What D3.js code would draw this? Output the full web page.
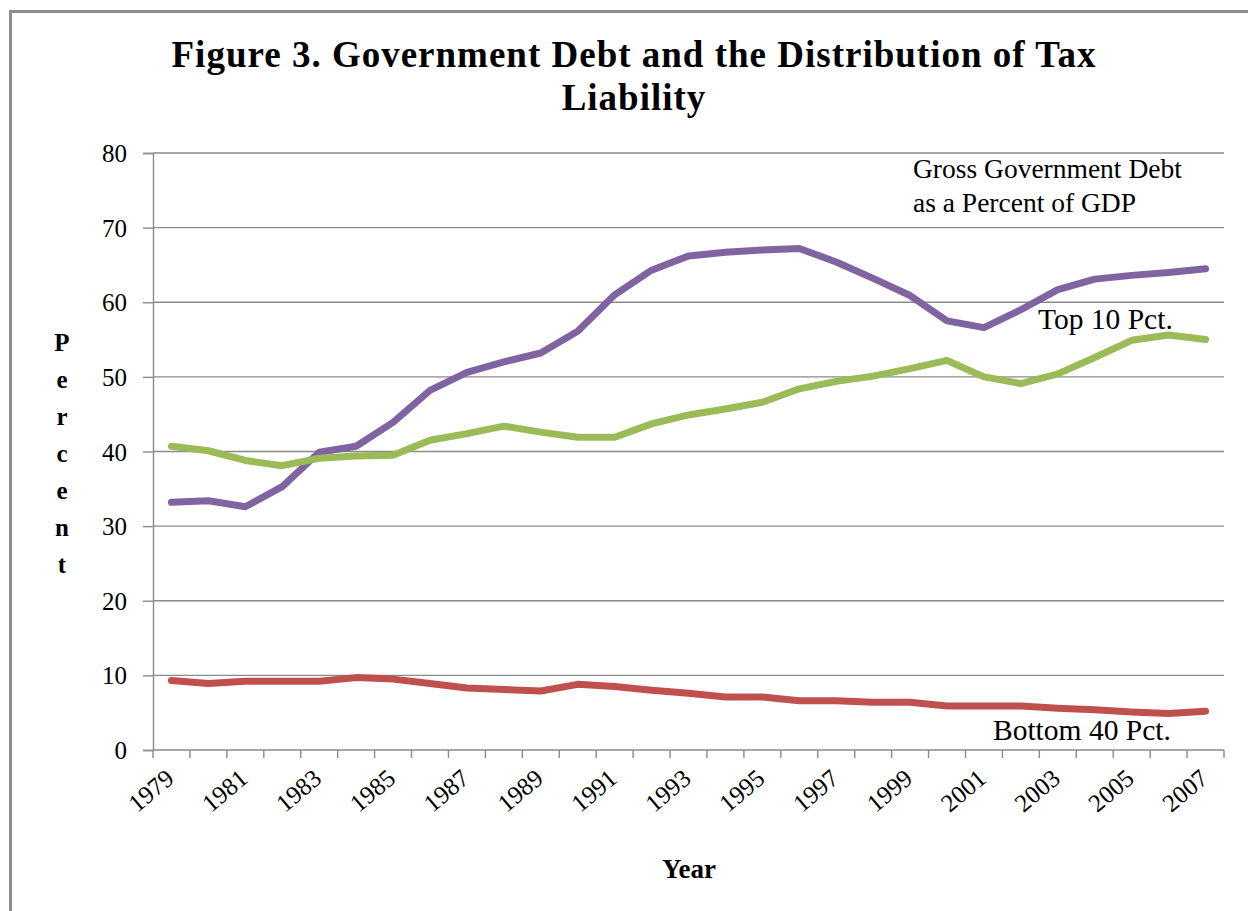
<!DOCTYPE html>
<html>
<head>
<meta charset="utf-8">
<script src="https://cdn.jsdelivr.net/npm/d3@7/dist/d3.min.js"></script>
<style>
  body { margin: 0; background: #fff; }
  text { font-family: "Liberation Serif", "Times New Roman", serif; fill: #000; }
</style>
</head>
<body>
<div id="chart"></div>
<script>
(function() {
    var years = d3.range(1979, 2008);
    var debt = [33.2, 33.4, 32.6, 35.3, 39.9, 40.7, 43.9, 48.2, 50.6, 52.0, 53.2, 56.1, 61.0, 64.3, 66.2,
                66.7, 67.0, 67.2, 65.4, 63.2, 60.9, 57.5, 56.6, 59.0, 61.7, 63.1, 63.6, 64.0, 64.5];
    var top10 = [40.7, 40.1, 38.8, 38.1, 39.1, 39.4, 39.5, 41.5, 42.4, 43.4, 42.6, 41.9, 41.9, 43.7, 44.9,
                 45.7, 46.6, 48.4, 49.4, 50.1, 51.1, 52.2, 50.0, 49.1, 50.4, 52.6, 54.9, 55.6, 55.0];
    var bottom40 = [9.3, 8.9, 9.2, 9.2, 9.2, 9.7, 9.5, 8.9, 8.3, 8.1, 7.9, 8.8, 8.5, 8.0, 7.6,
                    7.1, 7.1, 6.6, 6.6, 6.4, 6.4, 5.9, 5.9, 5.9, 5.6, 5.4, 5.1, 4.9, 5.2];
    var yTicks = [0, 10, 20, 30, 40, 50, 60, 70, 80];
    var xLabels = d3.range(1979, 2008, 2);

    var series = [
        { name: "debt", values: debt, color: "#8064a2" },
        { name: "top10", values: top10, color: "#9bbb59" },
        { name: "bottom40", values: bottom40, color: "#c0504d" }
    ];

    var W = 1248, H = 911;
    var margin = { top: 153, right: 24, bottom: 161, left: 153 },
        width = W - margin.left - margin.right,
        height = H - margin.top - margin.bottom;

    var svg = d3.select("#chart").append("svg")
        .attr("width", W)
        .attr("height", H);

    // outer frame
    svg.append("rect")
        .attr("x", 10.5).attr("y", 11.5)
        .attr("width", W).attr("height", H)
        .style("fill", "none")
        .style("stroke", "#8c8c8c")
        .style("stroke-width", 3);

    svg.append("text")
        .attr("x", 634).attr("y", 67)
        .attr("text-anchor", "middle")
        .style("font-weight", "bold")
        .style("font-size", "37px")
        .style("letter-spacing", "1px")
        .text("Figure 3. Government Debt and the Distribution of Tax");
    svg.append("text")
        .attr("x", 634).attr("y", 110)
        .attr("text-anchor", "middle")
        .style("font-weight", "bold")
        .style("font-size", "37px")
        .style("letter-spacing", "1px")
        .text("Liability");

    var g = svg.append("g")
        .attr("transform", "translate(" + margin.left + "," + margin.top + ")");

    var x = d3.scaleBand().domain(years).range([0, width]);
    var y = d3.scaleLinear().domain([0, 80]).range([height, 0]);

    // gridlines
    g.selectAll(".grid")
        .data(yTicks.slice(1))
        .enter().append("line")
        .attr("class", "grid")
        .attr("x1", 0).attr("x2", width)
        .attr("y1", function(d) { return y(d); })
        .attr("y2", function(d) { return y(d); })
        .style("stroke", "#8a8a8a")
        .style("stroke-width", 1.4);

    var yAxis = g.append("g")
        .call(d3.axisLeft(y).tickValues(yTicks).tickSize(10).tickPadding(16).tickFormat(d3.format("d")));
    yAxis.selectAll("line, path").style("stroke", "#8a8a8a").style("stroke-width", 1.4);
    yAxis.selectAll("text")
        .style("font-size", "25px")
        .attr("dy", "0.34em");

    // x axis: ticks at category boundaries
    var xAxis = g.append("g").attr("transform", "translate(0," + height + ")");
    xAxis.append("line")
        .attr("x1", 0).attr("x2", width)
        .style("stroke", "#8a8a8a").style("stroke-width", 1.4);
    xAxis.selectAll(".tick")
        .data(years.concat([2008]))
        .enter().append("line")
        .attr("x1", function(d) { return d === 2008 ? width : x(d); })
        .attr("x2", function(d) { return d === 2008 ? width : x(d); })
        .attr("y1", 0).attr("y2", 8)
        .style("stroke", "#8a8a8a").style("stroke-width", 1.4);
    xAxis.selectAll(".lbl")
        .data(xLabels)
        .enter().append("text")
        .attr("class", "lbl")
        .attr("text-anchor", "end")
        .attr("transform", function(d) {
            return "translate(" + (x(d) + x.bandwidth() / 2 + 4) + ",31) rotate(-40)";
        })
        .style("font-size", "25px")
        .text(function(d) { return d; });

    var line = d3.line()
        .x(function(d, i) { return x(years[i]) + x.bandwidth() / 2; })
        .y(function(d) { return y(d); });

    g.selectAll(".series")
        .data(series)
        .enter().append("path")
        .attr("class", "series")
        .attr("d", function(d) { return line(d.values); })
        .style("fill", "none")
        .style("stroke", function(d) { return d.color; })
        .style("stroke-width", 7)
        .style("stroke-linejoin", "round")
        .style("stroke-linecap", "round");

    // annotations
    svg.append("text").attr("x", 913).attr("y", 178).style("font-size", "27.5px").text("Gross Government Debt");
    svg.append("text").attr("x", 913).attr("y", 212).style("font-size", "27.5px").text("as a Percent of GDP");
    svg.append("text").attr("x", 1038).attr("y", 329).style("font-size", "29.5px").text("Top 10 Pct.");
    svg.append("text").attr("x", 993).attr("y", 740).style("font-size", "29.5px").text("Bottom 40 Pct.");

    // axis titles
    svg.append("text")
        .attr("x", 689).attr("y", 878)
        .attr("text-anchor", "middle")
        .style("font-weight", "bold")
        .style("font-size", "27px")
        .text("Year");
    svg.append("g").selectAll("text")
        .data("Percent".split(""))
        .enter().append("text")
        .attr("x", 62)
        .attr("y", function(d, i) { return 351 + i * 37; })
        .attr("text-anchor", "middle")
        .style("font-weight", "bold")
        .style("font-size", "25px")
        .text(function(d) { return d; });
})();
</script>
</body>
</html>
